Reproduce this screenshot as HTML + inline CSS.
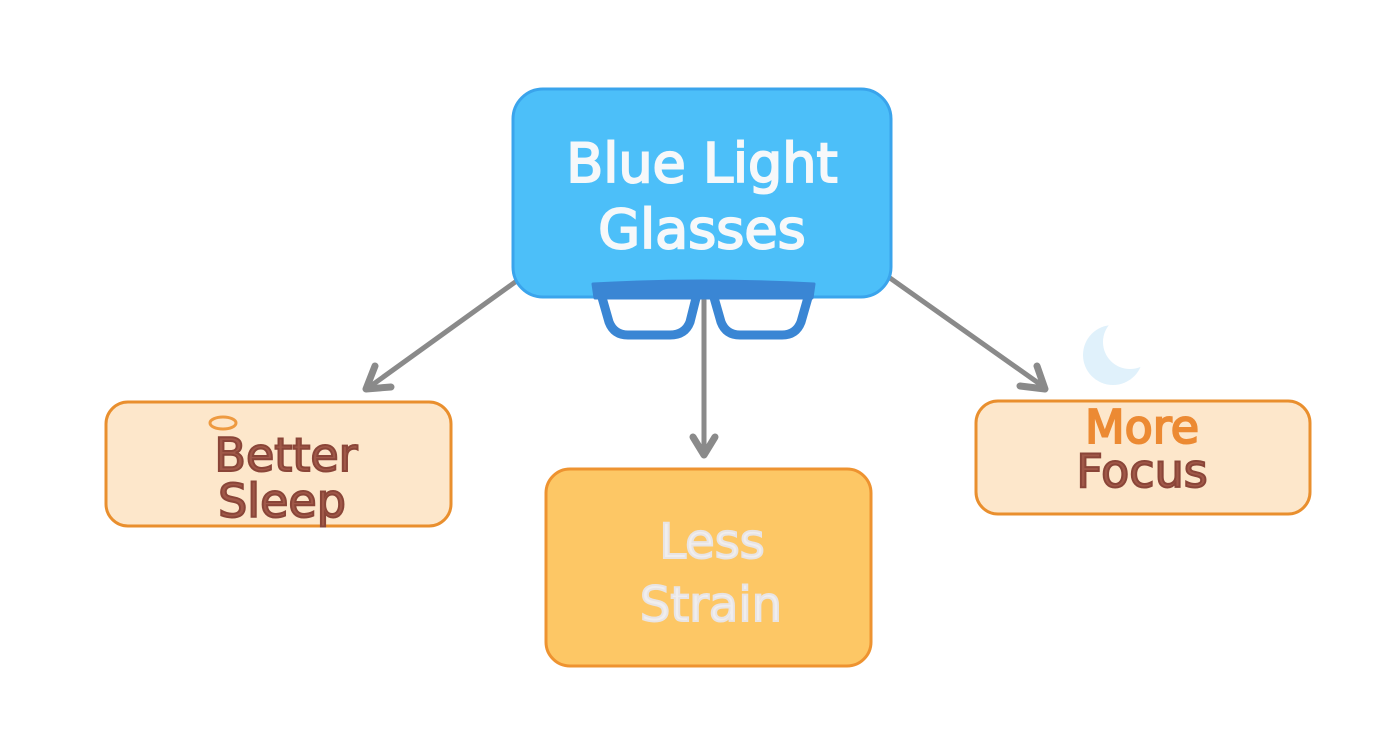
<!DOCTYPE html>
<html><head><meta charset="utf-8"><style>
html,body{margin:0;padding:0;background:#fff;}
svg{display:block;}
text{font-family:"DejaVu Sans","Liberation Sans",sans-serif;text-anchor:middle;}
</style></head><body>
<svg width="1392" height="752" viewBox="0 0 1392 752" xmlns="http://www.w3.org/2000/svg">
<rect width="1392" height="752" fill="#fff"/>
<!-- moon -->
<circle cx="1113" cy="355" r="30" fill="#e0f1fb"/>
<circle cx="1130" cy="342" r="27" fill="#fff"/>
<!-- arrows -->
<g stroke="#8a8a8a" stroke-width="5" fill="none" stroke-linecap="round" stroke-linejoin="round">
<line x1="518" y1="280" x2="368" y2="388"/>
<polyline points="375,366 366,389 391,387" stroke-width="7"/>
<line x1="704" y1="300" x2="704" y2="453"/>
<polyline points="693,437 704,455 715,437" stroke-width="7"/>
<line x1="890" y1="278" x2="1044" y2="387"/>
<polyline points="1020,386 1045,389 1037,366" stroke-width="7"/>
</g>
<!-- main box -->
<rect x="513" y="89" width="378" height="208" rx="30" fill="#4cbff9" stroke="#3aa4ec" stroke-width="3"/>
<text x="702" y="182" font-size="54" fill="#f6f8fa" stroke="#f6f8fa" stroke-width="2">Blue Light</text>
<text x="702" y="248" font-size="54" fill="#f6f8fa" stroke="#f6f8fa" stroke-width="2">Glasses</text>
<!-- glasses -->
<g fill="none" stroke="#3a86d4" stroke-linejoin="round">
<path d="M593,284 Q700,278 814,284 L812,298 L595,298 Z" fill="#3a86d4" stroke-width="3"/>
<path d="M601,294 L697,294 L690,322 Q685,335 670,335 L628,335 Q614,335 609,322 Z" stroke-width="9"/>
<path d="M713,294 L809,294 L801,322 Q796,335 782,335 L740,335 Q726,335 721,322 Z" stroke-width="9"/>
</g>
<!-- Better Sleep -->
<rect x="106" y="402" width="345" height="124" rx="22" fill="#fde7cb" stroke="#e98f2e" stroke-width="3"/>
<ellipse cx="223" cy="423" rx="13" ry="6" fill="none" stroke="#ee9a40" stroke-width="3"/>
<text x="286" y="471" font-size="46" fill="#a05848" stroke="#8a4538" stroke-width="2">Better</text>
<text x="282" y="517" font-size="46" fill="#a05848" stroke="#8a4538" stroke-width="2">Sleep</text>
<!-- Less Strain -->
<rect x="546" y="469" width="325" height="197" rx="24" fill="#fdc765" stroke="#ee9330" stroke-width="3"/>
<text x="712" y="558" font-size="48" fill="#f0eeee" stroke="#e8e4e4" stroke-width="2">Less</text>
<text x="711" y="621" font-size="48" fill="#f0eeee" stroke="#e8e4e4" stroke-width="2">Strain</text>
<!-- More Focus -->
<rect x="976" y="401" width="334" height="113" rx="22" fill="#fde7cb" stroke="#e98f2e" stroke-width="3"/>
<text x="1142" y="443" font-size="46" fill="#ec8a33" stroke="#ec8a33" stroke-width="2">More</text>
<text x="1142" y="487" font-size="46" fill="#a05848" stroke="#8a4538" stroke-width="2">Focus</text>
</svg>
</body></html>
